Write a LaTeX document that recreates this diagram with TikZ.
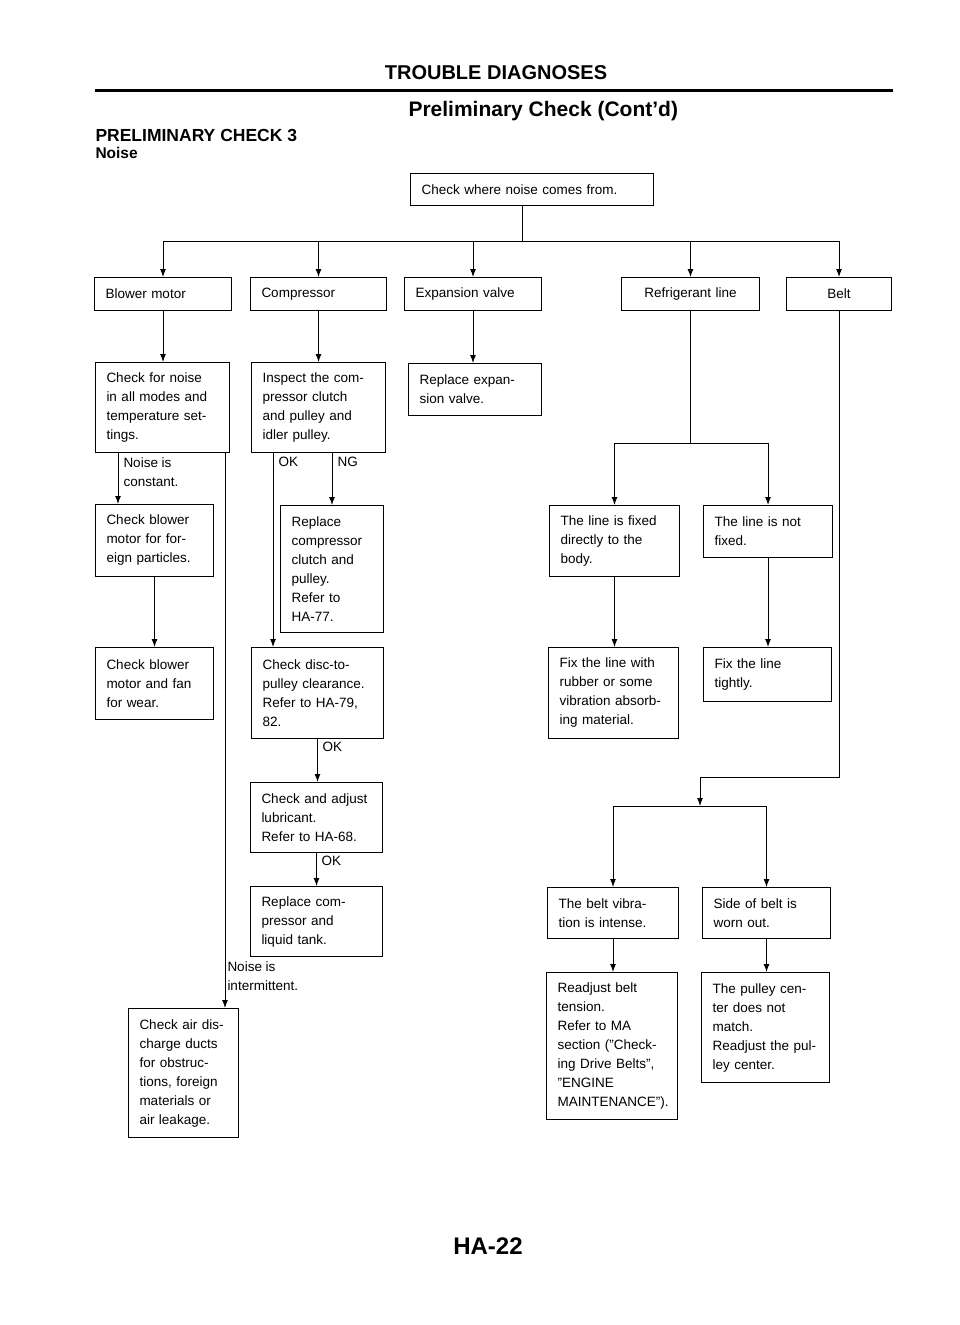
\documentclass[tikz,border=0pt]{standalone}
\usepackage{fontspec}
\setmainfont{Liberation Sans}
\usetikzlibrary{arrows.meta}
\newcommand{\boxfont}{\fontsize{13.5}{19}\selectfont\hyphenpenalty=10000\exhyphenpenalty=10000}
\newcommand{\headfont}[1]{\fontsize{#1}{#1}\selectfont\bfseries}

\begin{document}
\begin{tikzpicture}[x=1pt,y=-1pt,line width=1pt,
    box/.style 2 args={draw, anchor=north west, inner xsep=11pt, inner ysep=4pt,
        align=left, font=\boxfont, text width=#1, minimum height=#2},
    lbl/.style={anchor=north west, inner sep=0pt, align=left, font=\boxfont},
    arr/.style={-{Latex[length=8pt,width=6pt]}}]
    \useasboundingbox (0,0) rectangle (960,1325);

    \node[font=\headfont{20}] (title) at (496,73) {TROUBLE DIAGNOSES};
    \draw[line width=3pt] (95,90) -- (893,90);
    \node[font=\headfont{21}, anchor=west, inner sep=0pt] (subtitle) at (408,111) {Preliminary Check (Cont'd)};
    \node[font=\headfont{17.5}, anchor=west, inner sep=0pt] (check3) at (95,135) {PRELIMINARY CHECK 3};
    \node[font=\headfont{15.5}, anchor=west, inner sep=0pt] (noise) at (95,153) {Noise};
    \node[font=\headfont{24}] (page) at (488,1246) {HA-22};

    \node[box={221pt}{32pt}] (top) at (410,173) {Check where noise comes from.};

    \node[box={115pt}{33pt}] (blower) at (94,277) {Blower motor};
    \node[box={114pt}{33pt}] (compr) at (250,277) {Compressor};
    \node[box={115pt}{33pt}] (expv) at (404,277) {Expansion valve};
    \node[box={116pt}{33pt}, align=center] (refrig) at (621,277) {Refrigerant line};
    \node[box={83pt}{33pt}, align=center] (belt) at (786,277) {Belt};

    \node[box={112pt}{90pt}] (noisechk) at (95,362) {Check for noise\\in all modes and\\temperature set-\\tings.};
    \node[box={112pt}{90pt}] (inspect) at (251,362) {Inspect the com-\\pressor clutch\\and pulley and\\idler pulley.};
    \node[box={111pt}{52pt}] (replexp) at (408,363) {Replace expan-\\sion valve.};

    \node[box={96pt}{72pt}] (blowerchk) at (95,504) {Check blower\\motor for for-\\eign particles.};
    \node[box={81pt}{127pt}] (replclutch) at (280,505) {Replace\\compressor\\clutch and\\pulley.\\Refer to\\HA-77.};
    \node[box={108pt}{71pt}] (fixed) at (549,505) {The line is fixed\\directly to the\\body.};
    \node[box={107pt}{52pt}] (notfixed) at (703,505) {The line is not\\fixed.};

    \node[box={96pt}{72pt}] (fanchk) at (95,647) {Check blower\\motor and fan\\for wear.};
    \node[box={110pt}{91pt}] (discchk) at (251,647) {Check disc-to-\\pulley clearance.\\Refer to HA-79,\\82.};
    \node[box={108pt}{91pt}] (fixrubber) at (548,647) {Fix the line with\\rubber or some\\vibration absorb-\\ing material.};
    \node[box={106pt}{54pt}] (fixtight) at (703,647) {Fix the line\\tightly.};

    \node[box={110pt}{70pt}] (lubchk) at (250,782) {Check and adjust\\lubricant.\\Refer to HA-68.};
    \node[box={110pt}{70pt}] (replcomp) at (250,886) {Replace com-\\pressor and\\liquid tank.};
    \node[box={109pt}{51pt}] (vibra) at (547,887) {The belt vibra-\\tion is intense.};
    \node[box={106pt}{51pt}] (worn) at (702,887) {Side of belt is\\worn out.};

    \node[box={88pt}{129pt}] (airchk) at (128,1008) {Check air dis-\\charge ducts\\for obstruc-\\tions, foreign\\materials or\\air leakage.};
    \node[box={109pt}{147pt}] (readjust) at (546,972) {Readjust belt\\tension.\\Refer to MA\\section (''Check-\\ing Drive Belts'',\\''ENGINE\\MAINTENANCE'').};
    \node[box={106pt}{110pt}] (pulley) at (701,972) {The pulley cen-\\ter does not\\match.\\Readjust the pul-\\ley center.};

    \coordinate (bus) at (522,241);
    \draw (bus |- top.south) -- (bus);
    \draw (blower.north |- bus) -- (belt.north |- bus);
    \foreach \n in {blower,compr,expv,refrig,belt}
        \draw[arr] (\n.north |- bus) -- (\n.north);

    \draw[arr] (blower.south) -- (blower.south |- noisechk.north);
    \draw[arr] (compr.south) -- (compr.south |- inspect.north);
    \draw[arr] (expv.south) -- (expv.south |- replexp.north);

    \draw[arr] ([xshift=23pt]noisechk.south west) -- ([xshift=23pt]blowerchk.north west);
    \node[lbl] (constlbl) at (123,457) {Noise is\\constant.};
    \draw[arr] (blowerchk.south) -- (blowerchk.south |- fanchk.north);
    \draw[arr] ([xshift=-5pt]noisechk.south east) -- ([xshift=-5pt]noisechk.south east |- airchk.north);
    \node[lbl] (intermlbl) at (227,961) {Noise is\\intermittent.};

    \draw[arr] ([xshift=22pt]inspect.south west) -- ([xshift=22pt]inspect.south west |- discchk.north);
    \node[lbl] (oklbl) at (278,457) {OK};
    \draw[arr] (replclutch.north |- inspect.south) -- (replclutch.north);
    \node[lbl] (nglbl) at (337,457) {NG};
    \draw[arr] (discchk.south) -- (discchk.south |- lubchk.north);
    \node[lbl] (okdisc) at (322,742) {OK};
    \draw[arr] (lubchk.south) -- (lubchk.south |- replcomp.north);
    \node[lbl] (oklub) at (321,856) {OK};

    \coordinate (refbus) at (690,443);
    \draw (refrig.south) -- (refrig.south |- refbus);
    \draw (fixed.north |- refbus) -- (notfixed.north |- refbus);
    \draw[arr] (fixed.north |- refbus) -- (fixed.north);
    \draw[arr] (notfixed.north |- refbus) -- (notfixed.north);
    \draw[arr] (fixed.south) -- (fixed.south |- fixrubber.north);
    \draw[arr] (notfixed.south) -- (notfixed.south |- fixtight.north);

    \coordinate (beltjoin) at (700,777);
    \coordinate (beltbus) at (700,806);
    \draw (belt.south) |- (beltjoin);
    \draw[arr] (beltjoin) -- (beltbus);
    \draw (vibra.north |- beltbus) -- (worn.north |- beltbus);
    \draw[arr] (vibra.north |- beltbus) -- (vibra.north);
    \draw[arr] (worn.north |- beltbus) -- (worn.north);
    \draw[arr] (vibra.south) -- (vibra.south |- readjust.north);
    \draw[arr] (worn.south) -- (worn.south |- pulley.north);
\end{tikzpicture}
\end{document}
